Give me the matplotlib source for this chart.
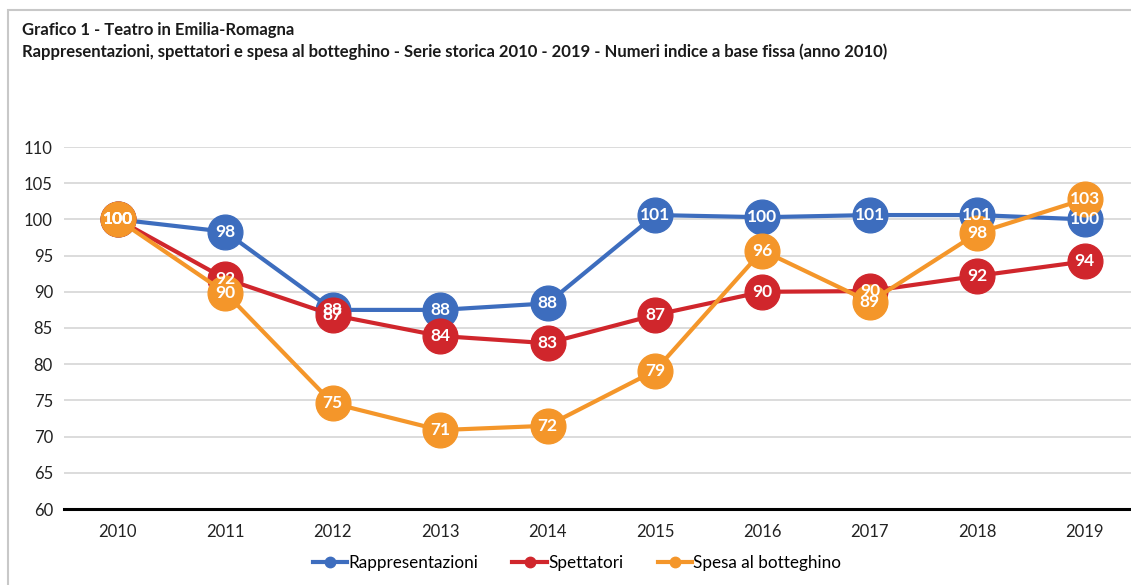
import matplotlib.pyplot as plt
from matplotlib.patches import Rectangle

plt.rcParams['font.family'] = ['Lato', 'DejaVu Sans']

# dati (numeri indice, 2010 = 100)
anni = ["2010", "2011", "2012", "2013", "2014", "2015", "2016", "2017", "2018", "2019"]
rappresentazioni = [100, 98.3, 87.5, 87.5, 88.4, 100.6, 100.3, 100.6, 100.6, 100.0]
spettatori = [100, 91.8, 86.8, 83.9, 82.9, 86.8, 90.0, 90.1, 92.2, 94.2]
spesa = [100, 89.9, 74.6, 70.9, 71.5, 79.1, 95.7, 88.6, 98.1, 102.8]

serie = [
    ("Rappresentazioni", rappresentazioni, "#3D6DBE"),
    ("Spettatori", spettatori, "#D0262C"),
    ("Spesa al botteghino", spesa, "#F4962A"),
]

fig = plt.figure(figsize=(11.31, 5.85), dpi=100)
fig.patches.append(Rectangle((8 / 1131, -0.1), 1.2, 1 - 10 / 585 + 0.1,
                             transform=fig.transFigure, fill=False,
                             edgecolor="#C8C8C8", linewidth=1.5))

ax = fig.add_axes([64 / 1131, 1 - 509 / 585, (1131 - 64) / 1131, (509 - 147) / 585])
x = list(range(len(anni)))

for nome, valori, colore in serie:
    ax.plot(x, valori, color=colore, linewidth=3, marker="o", markersize=25,
            label=nome, zorder=3, clip_on=False)

# etichette sopra tutte le linee
for nome, valori, colore in serie:
    for xi, v in zip(x, valori):
        ax.text(xi, v, f"{round(v):.0f}", color="white", fontsize=12.5,
                fontweight="bold", ha="center", va="center", zorder=5)

ax.set_xlim(-0.5, 9.43)
ax.set_ylim(60, 110)
ax.set_yticks(range(60, 111, 5))
ax.set_xticks(x)
ax.set_xticklabels(anni)
ax.tick_params(axis="both", length=0, labelsize=12, colors="#222222")
ax.tick_params(axis="x", pad=11)
ax.tick_params(axis="y", pad=8)
ax.grid(axis="y", color="#D9D9D9", linewidth=1.3)
ax.set_axisbelow(True)
for s in ["top", "right", "left"]:
    ax.spines[s].set_visible(False)
ax.spines["bottom"].set_color("black")
ax.spines["bottom"].set_linewidth(2.2)

fig.text(22 / 1131, 1 - 30 / 585, "Grafico 1 - Teatro in Emilia-Romagna",
         fontsize=12, fontweight="bold", va="center", color="#1a1a1a")
fig.text(22 / 1131, 1 - 52 / 585,
         "Rappresentazioni, spettatori e spesa al botteghino - Serie storica 2010 - 2019 - Numeri indice a base fissa (anno 2010)",
         fontsize=12, fontweight="bold", va="center", color="#1a1a1a")

handles, labels = ax.get_legend_handles_labels()
leg = fig.legend(handles, labels, loc="center", bbox_to_anchor=(577 / 1131, 1 - 563 / 585),
                 ncol=3, frameon=False, fontsize=12.3, markerscale=0.3,
                 handlelength=2.0, columnspacing=2.0, handletextpad=0.1)

fig.savefig("out.png", dpi=100)
